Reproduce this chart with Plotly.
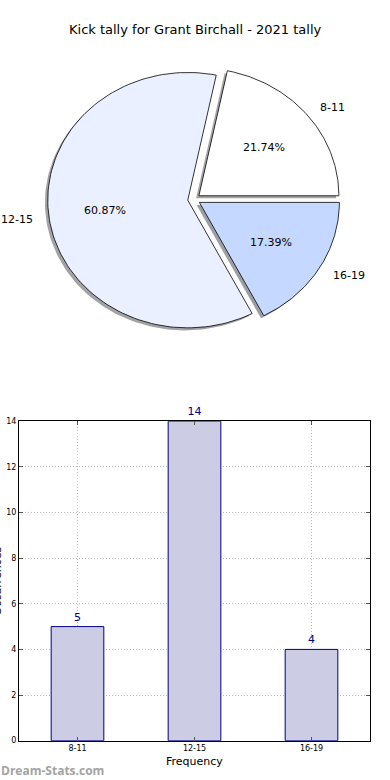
import numpy as np
import plotly.graph_objects as go

# ---- data ----
title_text = "Kick tally for Grant Birchall - 2021 tally"
categories = ["8-11", "12-15", "16-19"]
values = [5, 14, 4]
pie_colors = ["#ffffff", "#eaf0ff", "#c5d8ff"]
explode = [0.045, 0.045, 0.045]
y_ticks = [0, 2, 4, 6, 8, 10, 12, 14]
x_title = "Frequency"
y_title = "Occurrences"
watermark = "Dream-Stats.com"

W, H = 390, 780
fig = go.Figure()


def Y(p):
    """target picture row -> layout row (small vertical calibration)"""
    return (p - 4.4) / 0.987


# ---- pie drawn as wedges on an (elliptical) x/y frame ----
fracs = np.array(values, dtype=float) / sum(values)
start = 0.0
wedges = []
for cat, fr, col, ex in zip(categories, fracs, pie_colors, explode):
    t1, t2 = start, start + 360.0 * fr
    mid = np.deg2rad((t1 + t2) / 2)
    ox, oy = ex * np.cos(mid), ex * np.sin(mid)
    th = np.deg2rad(np.linspace(t1, t2, 120))
    xs = np.concatenate([[ox], ox + np.cos(th), [ox]])
    ys = np.concatenate([[oy], oy + np.sin(th), [oy]])
    wedges.append((cat, fr, col, ox, oy, xs, ys, mid))
    start = t2

def hex_to_rgb(h):
    h = h.lstrip("#")
    return tuple(int(h[i:i + 2], 16) for i in (0, 2, 4))

# shadows
for cat, fr, col, ox, oy, xs, ys, mid in wedges:
    r, g, b = (int(c * 0.3) for c in hex_to_rgb(col))
    fig.add_trace(go.Scatter(x=xs - 0.02, y=ys - 0.02, mode="lines", fill="toself",
                             fillcolor=f"rgba({r},{g},{b},0.5)", line=dict(width=0),
                             hoverinfo="skip", showlegend=False, xaxis="x", yaxis="y"))
# wedges
for cat, fr, col, ox, oy, xs, ys, mid in wedges:
    fig.add_trace(go.Scatter(x=xs, y=ys, mode="lines", fill="toself", fillcolor=col,
                             line=dict(color="black", width=0.8), name=cat,
                             hoverinfo="skip", showlegend=False, xaxis="x", yaxis="y"))

annotations = []
for cat, fr, col, ox, oy, xs, ys, mid in wedges:
    lx, ly = ox + 1.1 * np.cos(mid), oy + 1.1 * np.sin(mid)
    annotations.append(dict(x=lx, y=ly, xref="x", yref="y", text=cat, showarrow=False,
                            xanchor="left" if lx > 0 else "right", yanchor="middle",
                            font=dict(size=11, color="black")))
    px, py = ox + 0.6 * np.cos(mid), oy + 0.6 * np.sin(mid)
    annotations.append(dict(x=px, y=py, xref="x", yref="y", text=f"{fr * 100:.2f}%",
                            showarrow=False, xanchor="center", yanchor="middle",
                            font=dict(size=11, color="black")))

# pixel geometry of pie frame
rx, ry = 140.0, 127.5 / 0.987
cxp, cyp = 194.0, Y(199.5)
pie_top, pie_bot = 40.0, 360.0

# ---- bar chart ----
fig.add_trace(go.Bar(x=categories, y=values, width=0.45,
                     marker=dict(color="#ccccE4", line=dict(color="#000080", width=1)),
                     text=[str(v) for v in values], textposition="outside",
                     textfont=dict(color="#000080", size=11), cliponaxis=False,
                     hoverinfo="skip", showlegend=False, xaxis="x2", yaxis="y2"))

bar_l, bar_r, bar_t, bar_b = 19.0, 370.0, Y(421.0), Y(740.0)

annotations += [
    dict(x=0.5, y=1 - Y(30) / H, xref="paper", yref="paper", text=title_text, showarrow=False,
         xanchor="center", yanchor="middle", font=dict(size=13, color="black")),
    dict(x=(bar_l + bar_r) / 2 / W, y=1 - Y(761) / H, xref="paper", yref="paper", text=x_title,
         showarrow=False, xanchor="center", yanchor="middle", font=dict(size=11, color="black")),
    dict(x=-3 / W, y=1 - Y(581) / H, xref="paper", yref="paper", text=y_title, textangle=-90,
         showarrow=False, xanchor="center", yanchor="middle", font=dict(size=11, color="black")),
    dict(x=-1 / W, y=1 - 775 / H, xref="paper", yref="paper", text=watermark, showarrow=False,
         xanchor="left", yanchor="middle",
         font=dict(size=12, color="#a3a3a3", family="Open Sans", weight="bold")),
]

grid_common = dict(showgrid=True, gridcolor="#b8b8b8", griddash="1px,2px", gridwidth=1,
                   showline=True, linecolor="black", linewidth=1, mirror="ticks",
                   ticks="inside", ticklen=4, tickcolor="#555", tickfont=dict(size=8),
                   zeroline=False)

fig.update_layout(
    width=W, height=H,
    autosize=False,
    margin=dict(l=0, r=0, t=0, b=0),
    paper_bgcolor="white", plot_bgcolor="white",
    font=dict(family="DejaVu Sans", color="black"),
    annotations=annotations,
    showlegend=False,
    xaxis=dict(domain=[0, 1], range=[-cxp / rx, (W - cxp) / rx], visible=False, fixedrange=True),
    yaxis=dict(domain=[1 - pie_bot / H, 1 - pie_top / H],
               range=[-(pie_bot - cyp) / ry, (cyp - pie_top) / ry], visible=False, fixedrange=True),
    xaxis2=dict(domain=[bar_l / W, bar_r / W], anchor="y2", range=[-0.5, 2.5], **grid_common),
    yaxis2=dict(domain=[1 - bar_b / H, 1 - bar_t / H], anchor="x2", range=[0, 14],
                tickvals=y_ticks, **grid_common),
)

css_js = (
    "var s=document.createElement('style');"
    "s.textContent='html,body{margin:0!important;padding:0!important;overflow:hidden!important;}';"
    "document.head.appendChild(s);"
)

fig.write_html("out.html",
               config={"displayModeBar": False, "responsive": False},
               post_script=css_js)
